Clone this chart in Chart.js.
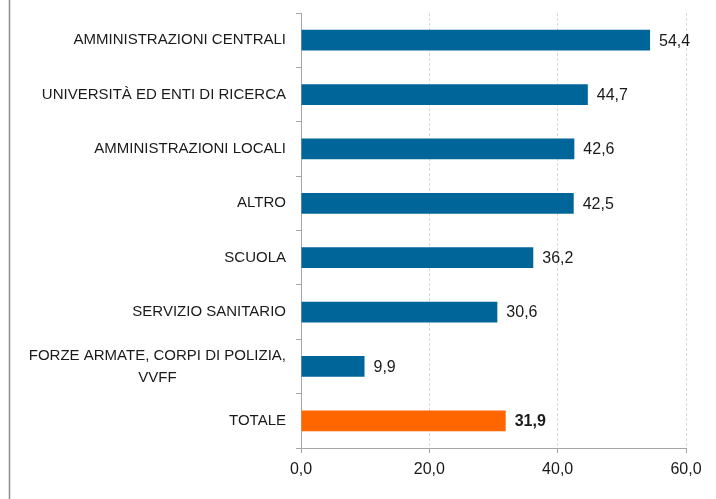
<!DOCTYPE html>
<html>
<head>
<meta charset="utf-8">
<script src="https://cdn.jsdelivr.net/npm/chart.js@4/dist/chart.umd.min.js"></script>
<style>
  html, body { margin: 0; padding: 0; background: #fff; }
  canvas { display: block; }
</style>
</head>
<body>
<canvas id="chart" width="716" height="499"></canvas>
<script>
const categories = [
  'AMMINISTRAZIONI CENTRALI',
  'UNIVERSITÀ ED ENTI DI RICERCA',
  'AMMINISTRAZIONI LOCALI',
  'ALTRO',
  'SCUOLA',
  'SERVIZIO SANITARIO',
  ['FORZE ARMATE, CORPI DI POLIZIA,', 'VVFF'],
  'TOTALE'
];
const values = [54.4, 44.7, 42.6, 42.5, 36.2, 30.6, 9.9, 31.9];
const xTicks = [0, 20, 40, 60];
const totalLabel = 'TOTALE';

const blue = '#006699';
const orange = '#ff6600';
const fontFamily = '"Liberation Sans", Arial, sans-serif';

const isTotal = i => categories[i] === totalLabel;
const fmt = v => v.toFixed(1).replace('.', ',');

// left frame line + category labels + value labels
const decorations = {
  id: 'decorations',
  beforeDraw(chart) {
    const ctx = chart.ctx;
    ctx.save();
    ctx.strokeStyle = '#8c8c8c';
    ctx.lineWidth = 1.5;
    ctx.beginPath();
    ctx.moveTo(9.5, 0);
    ctx.lineTo(9.5, chart.height);
    ctx.stroke();
    ctx.restore();
  },
  afterDatasetsDraw(chart) {
    const ctx = chart.ctx;
    const yScale = chart.scales.y;
    ctx.save();
    ctx.fillStyle = '#1a1a1a';
    ctx.textBaseline = 'middle';
    ctx.font = '15px ' + fontFamily;

    // category labels, multi-line ones centred on their widest line
    const rightEdge = yScale.right - 15;
    categories.forEach((cat, i) => {
      const lines = Array.isArray(cat) ? cat : [cat];
      const maxW = Math.max(...lines.map(l => ctx.measureText(l).width));
      const cx = rightEdge - maxW / 2;
      const cy = yScale.getPixelForTick(i);
      const lh = 22;
      ctx.textAlign = 'center';
      lines.forEach((l, j) => {
        ctx.fillText(l, cx, cy + (j - (lines.length - 1) / 2) * lh);
      });
    });

    // value labels at bar ends
    const meta = chart.getDatasetMeta(0);
    meta.data.forEach((bar, i) => {
      ctx.font = (isTotal(i) ? 'bold ' : '') + '16px ' + fontFamily;
      ctx.textAlign = 'left';
      ctx.fillText(fmt(values[i]), bar.x + 9, bar.y + 1);
    });
    ctx.restore();
  }
};

new Chart(document.getElementById('chart'), {
  type: 'bar',
  data: {
    labels: categories,
    datasets: [{
      data: values,
      backgroundColor: values.map((v, i) => isTotal(i) ? orange : blue),
      borderWidth: 0,
      barPercentage: 0.38,
      categoryPercentage: 1
    }]
  },
  options: {
    indexAxis: 'y',
    responsive: false,
    animation: false,
    layout: { padding: { left: 10, top: 13, right: 30, bottom: 0 } },
    plugins: {
      legend: { display: false },
      tooltip: { enabled: false }
    },
    scales: {
      x: {
        min: 0,
        max: 60,
        afterBuildTicks(scale) {
          scale.ticks = xTicks.map(v => ({ value: v }));
        },
        afterFit(scale) { scale.height = 51; },
        grid: {
          color: ctx => ctx.index === 0 ? 'rgba(0,0,0,0)' : '#d9d9d9',
          tickColor: '#a6a6a6',
          tickLength: 5,
          drawTicks: true
        },
        border: { display: true, color: '#a6a6a6', width: 1, dash: [3, 2] },
        ticks: {
          color: '#1a1a1a',
          font: { family: fontFamily, size: 16 },
          padding: 7,
          callback: v => fmt(v)
        }
      },
      y: {
        afterFit(scale) { scale.width = 291; },
        grid: {
          drawOnChartArea: false,
          offset: true,
          tickColor: '#a6a6a6',
          tickLength: 5
        },
        border: { display: true, color: '#a6a6a6', width: 1 },
        ticks: { display: false }
      }
    }
  },
  plugins: [decorations]
});
</script>
</body>
</html>
